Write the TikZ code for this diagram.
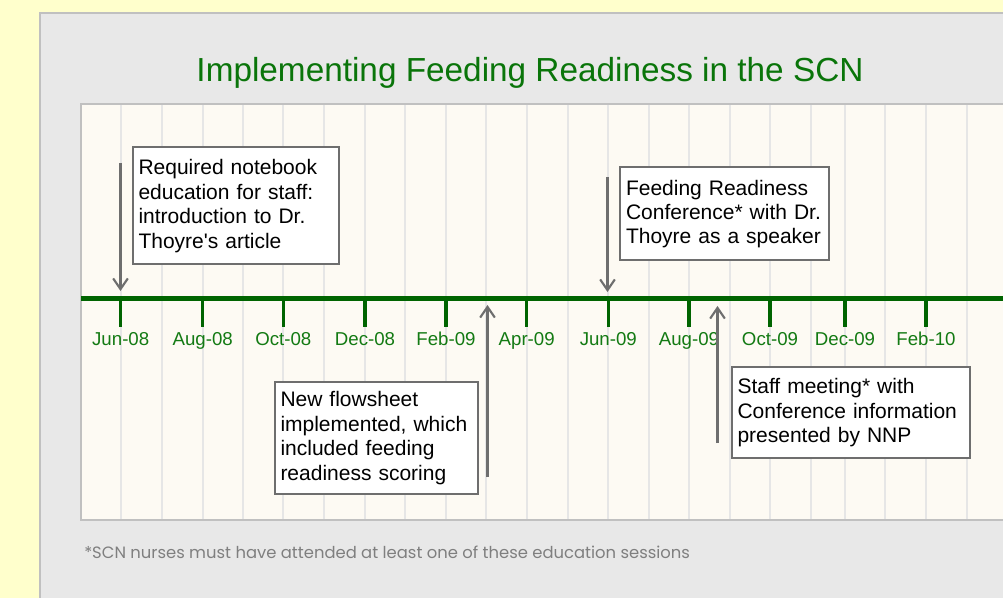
\documentclass[tikz,border=0pt]{standalone}
\usepackage{fontspec}
\setmainfont{Liberation Sans}
\newfontfamily\notefont{Poppins}
\usetikzlibrary{arrows.meta}

\definecolor{pagebg}{HTML}{FFFFCC}
\definecolor{panelbg}{HTML}{E8E8E8}
\definecolor{rulegray}{HTML}{C0C0C0}
\definecolor{plotbg}{HTML}{FDFAF3}
\definecolor{gridgray}{HTML}{E6E6E6}
\definecolor{linegreen}{HTML}{006400}
\definecolor{labelgreen}{HTML}{137A13}
\definecolor{titlegreen}{HTML}{0A750A}
\definecolor{boxgray}{HTML}{6E6E6E}
\definecolor{notegray}{HTML}{7F7F7F}

\tikzset{
  event/.style={draw=boxgray, line width=1.5pt, fill=white, anchor=north west,
    align=left, inner xsep=4.5pt, inner ysep=6pt,
    font=\fontsize{15.75}{18.3}\selectfont},
  pointer/.style={draw=boxgray, line width=1.6pt,
    -{Straight Barb[length=8pt,width=11pt,line width=1.6pt]}},
  month/.style={anchor=base, text=labelgreen, font=\fontsize{14}{16}\selectfont},
  tick/.style={linegreen, line width=2.6pt}
}

\begin{document}
\begin{tikzpicture}[x=0.75pt,y=-0.75pt]
	\useasboundingbox (0,0) rectangle (1003,598);
	\clip (0,0) rectangle (1003,598);
	% page and chart panel
	\fill[pagebg] (0,0) rectangle (1003,598);
	\filldraw[fill=panelbg, draw=rulegray, line width=1.1pt] (40,13) rectangle (1020,620);
	\filldraw[fill=plotbg, draw=rulegray, line width=1.5pt] (81,104.5) rectangle (1020,520);
	% monthly grid
	\foreach \g in {121,162,203,243,283,324,365,405,446,486,527,568,608,649,689,730,770,811,845,885,926,967}
		\draw[gridgray, line width=1.2pt] (\g,105.5) -- (\g,519);
	\node[anchor=base, text=titlegreen, font=\fontsize{25}{28}\selectfont] (title) at (530,82) {Implementing Feeding Readiness in the SCN};
	% time axis
	\draw[linegreen, line width=3.75pt] (81,298.5) -- (1020,298.5);
	\foreach \x/\m [count=\i] in {120.7/Jun-08, 202.7/Aug-08, 283.3/Oct-08, 365/Dec-08, 446/Feb-09, 526.7/Apr-09, 608.3/Jun-09, 689/Aug-09, 770/Oct-09, 845/Dec-09, 926/Feb-10}{
		\draw[tick] (\x,298.5) -- (\x,327);
		\node[month] (m\i) at (\x,346) {\m};
	}
	% events
	\node[event, text width=145.5pt, minimum height=87.75pt] (notebook) at (131.5,146.5)
		{Required notebook\\education for staff:\\introduction to Dr.\\Thoyre\textquotesingle s article};
	\node[event, text width=148.1pt, minimum height=69.75pt] (conf) at (619,166.5)
		{Feeding Readiness\\Conference* with Dr.\\Thoyre as a speaker};
	\node[event, text width=143.25pt, minimum height=84pt] (flowsheet) at (273.5,381)
		{New flowsheet\\implemented, which\\included feeding\\readiness scoring};
	\node[event, text width=169.5pt, minimum height=67.9pt] (staff) at (730.5,366.5)
		{Staff meeting* with\\Conference information\\presented by NNP};
	\coordinate (p1s) at (120.5,163);
	\coordinate (p1e) at (120.5,291);
	\coordinate (p2s) at (607.5,177);
	\coordinate (p2e) at (607.5,292);
	\coordinate (p3s) at (487.5,477);
	\coordinate (p3e) at (487.5,305);
	\coordinate (p4s) at (717.5,443);
	\coordinate (p4e) at (717.5,306);
	\draw[pointer] (p1s) -- (p1e);
	\draw[pointer] (p2s) -- (p2e);
	\draw[pointer] (p3s) -- (p3e);
	\draw[pointer] (p4s) -- (p4e);
	\node[anchor=base west, inner sep=0pt, text=notegray, font=\notefont\fontsize{12.3}{14}\selectfont] (note) at (84,558.5)
		{*SCN nurses must have attended at least one of these education sessions};
\end{tikzpicture}
\end{document}
